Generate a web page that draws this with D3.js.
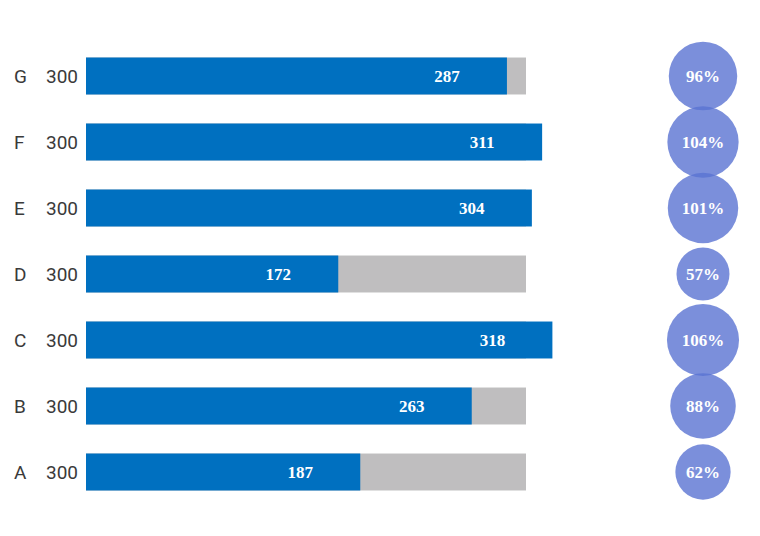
<!DOCTYPE html>
<html>
<head>
<meta charset="utf-8">
<script src="https://cdn.jsdelivr.net/npm/d3@7"></script>
<style>
  body { margin: 0; background: #fff; }
</style>
</head>
<body>
<svg width="760" height="536"></svg>
<script>
const categories = ["A", "B", "C", "D", "E", "F", "G"];
const targets = [300, 300, 300, 300, 300, 300, 300];
const actuals = [187, 263, 318, 172, 304, 311, 287];

const data = categories.map((c, i) => ({
    cat: c, target: targets[i], actual: actuals[i],
    pct: actuals[i] / targets[i]
}));

const svg = d3.select("svg");

const x = d3.scaleLinear()
    .domain([0, 300])
    .range([86, 526]);

// G on top, A at the bottom
const y = d3.scaleBand()
    .domain(categories.slice().reverse())
    .range([43, 505])
    .paddingInner(0.44)
    .paddingOuter(0.22);

const r = d3.scaleSqrt()
    .domain([0, 1])
    .range([0, 35]);

const row = svg.append("g")
    .selectAll("g")
    .data(data)
    .join("g")
    .attr("transform", d => `translate(0,${y(d.cat)})`);

const bh = y.bandwidth();

row.append("rect")
    .attr("x", x(0))
    .attr("width", d => x(d.target) - x(0))
    .attr("height", bh)
    .attr("fill", "#bfbebf");

row.append("rect")
    .attr("x", x(0))
    .attr("width", d => x(d.actual) - x(0))
    .attr("height", bh)
    .attr("fill", "#0070c0");

row.append("text")
    .attr("x", 14)
    .attr("y", bh / 2)
    .attr("dy", "0.36em")
    .attr("font-family", "Roboto, sans-serif")
    .attr("font-size", 19)
    .attr("fill", "#3a3a3a")
    .text(d => d.cat);

row.append("text")
    .attr("x", 78)
    .attr("y", bh / 2)
    .attr("dy", "0.36em")
    .attr("text-anchor", "end")
    .attr("font-family", "Roboto, sans-serif")
    .attr("font-size", 19)
    .attr("fill", "#3a3a3a")
    .text(d => d.target);

row.append("text")
    .attr("x", d => x(d.actual) - 60)
    .attr("y", bh / 2)
    .attr("dy", "0.36em")
    .attr("text-anchor", "middle")
    .attr("font-family", "'Liberation Serif', serif")
    .attr("font-weight", "bold")
    .attr("font-size", 17)
    .attr("fill", "#fff")
    .text(d => d.actual);

const cx = 703;

row.append("circle")
    .attr("cx", cx)
    .attr("cy", bh / 2)
    .attr("r", d => r(d.pct))
    .attr("fill", "#5a73d2")
    .attr("fill-opacity", 0.8);

row.append("text")
    .attr("x", cx)
    .attr("y", bh / 2)
    .attr("dy", "0.36em")
    .attr("text-anchor", "middle")
    .attr("font-family", "'Liberation Serif', serif")
    .attr("font-weight", "bold")
    .attr("font-size", 17)
    .attr("fill", "#fff")
    .text(d => Math.round(d.pct * 100) + "%");
</script>
</body>
</html>
